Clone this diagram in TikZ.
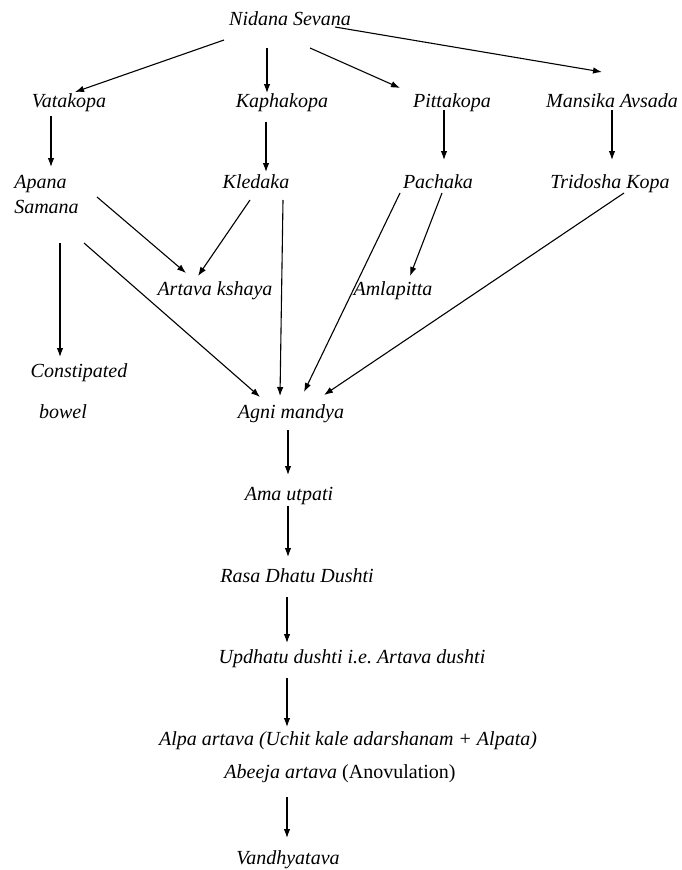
\documentclass[tikz,border=0pt]{standalone}
\usepackage{fontspec}
\setmainfont{Liberation Serif}
\usetikzlibrary{arrows.meta}
\tikzstyle{lbl}=[inner sep=0, outer sep=0, anchor=base, font=\fontsize{20}{24}\selectfont\itshape]
\tikzstyle{arr}=[-{Latex[length=9pt,width=6.5pt]}, line width=1.1pt]
\frenchspacing

\begin{document}
\begin{tikzpicture}[x=1pt, y=-1pt]
    \useasboundingbox (0,0) rectangle (681,870);
    \foreach \n/\x/\y/\t in {nidana/290/25/Nidana Sevana,
        vatakopa/69/107/Vatakopa, kaphakopa/282/107/Kaphakopa,
        pittakopa/452/107/Pittakopa, mansika/612/107/Mansika Avsada,
        apana/40.5/188/Apana, samana/46.5/213/Samana, kledaka/256/188/Kledaka,
        pachaka/438/188/Pachaka, tridosha/610/188/Tridosha Kopa,
        artava/215/295/Artava kshaya, amla/393/295/Amlapitta,
        const/79/377/Constipated, bowel/63/418/bowel,
        agni/291/418/Agni mandya, ama/289/500/Ama utpati,
        rasa/297/582/Rasa Dhatu Dushti,
        updhatu/352/663/Updhatu dushti i.e. Artava dushti,
        alpa/348/745/Alpa artava (Uchit kale adarshanam + Alpata),
        abeeja/340/778/Abeeja artava \textup{(Anovulation)},
        vandhya/288/864/Vandhyatava}{
      \node[lbl] (\n) at (\x,\y) {\t};
    }
    \foreach \a/\sa/\b/\sb in {nidana/{-66,15}/vatakopa/{6,-15},
        nidana/{-23,23}/kaphakopa/{-15,-14}, nidana/{20,23}/pittakopa/{-52,-19},
        nidana/{45,2}/mansika/{-10,-35}, vatakopa/{-18,9}/apana/{10.5,-21},
        kaphakopa/{-16,15}/kledaka/{10,-16}, pittakopa/{-8,3}/pachaka/{6,-28},
        mansika/{0,3}/tridosha/{2,-28}, samana/{50.5,-16}/artava/{-29,-22},
        kledaka/{-6,12}/artava/{-17,-19}, kledaka/{27,12}/agni/{-11,-22},
        pachaka/{-38,5}/agni/{13,-26}, pachaka/{4,5}/amla/{17,-19},
        tridosha/{14,5}/agni/{33,-23}, samana/{13.5,30}/const/{-19,-20},
        samana/{37.5,30}/agni/{-31,-21}, agni/{-3,12}/ama/{-1,-25},
        ama/{-1,6}/rasa/{-9,-25}, rasa/{-10,15}/updhatu/{-65,-20},
        updhatu/{-65,15}/alpa/{-61,-18}, abeeja/{-53,19}/vandhya/{-1,-26}}{
      \draw[arr] ([shift={(\sa)}]\a.base) -- ([shift={(\sb)}]\b.base);
    }
  \end{tikzpicture}
\end{document}
